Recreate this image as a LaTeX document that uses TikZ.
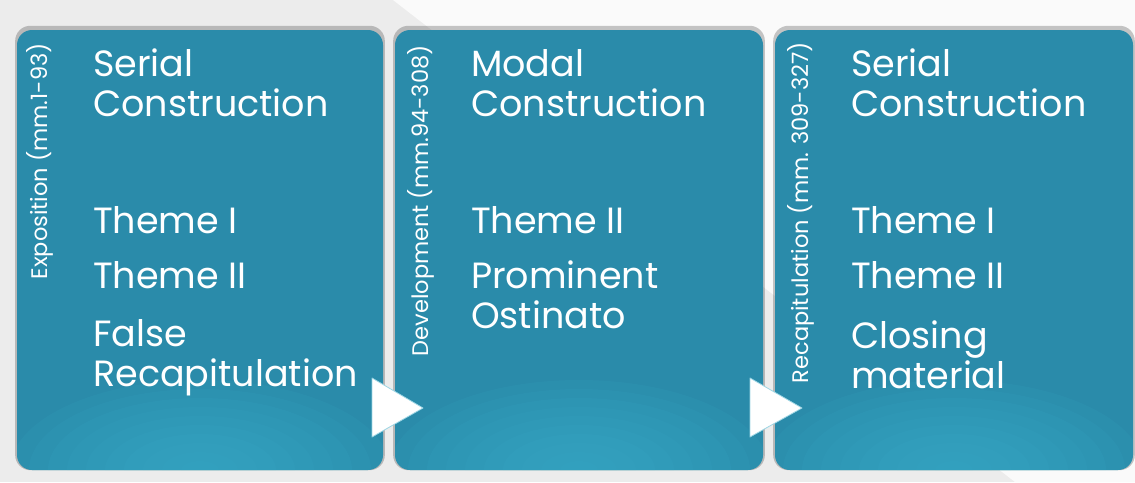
\documentclass[tikz,border=0pt]{standalone}
\usepackage{fontspec}
\usepackage{tikz}
\usetikzlibrary{shadows}
\newfontfamily\boxfont{Poppins}
\definecolor{boxteal}{RGB}{42,139,170}
\definecolor{boxglow}{RGB}{58,172,202}
\definecolor{backgrey}{RGB}{236,236,236}
\definecolor{backlight}{RGB}{250,250,250}
\begin{document}
\begin{tikzpicture}[x=1pt,y=-1pt,
  stagebox/.style={rounded corners=15pt, fill=boxteal, inner sep=0pt, minimum height=440pt,
    general shadow={fill=black, opacity=0.22, shadow scale=1.01, shadow yshift=2pt},
    path picture={\foreach \k in {1,...,10}
      \fill[boxglow, opacity=0.12] (path picture bounding box.south) ellipse ({19pt*\k} and {9pt*\k});}},
  itemtext/.style={text=white, font=\boxfont\fontsize{36.5}{39.5}\selectfont, align=left, anchor=base west, inner sep=0pt},
  sidetext/.style={text=white, font=\boxfont\fontsize{22.5}{22.5}\selectfont, rotate=90, anchor=base east, inner sep=0pt},
  nexttri/.style={fill=white, draw=boxglow!50!white, line width=0.8pt, line join=round}]
\useasboundingbox (0,0) rectangle (1135,482);
\fill[backgrey] (0,0) rectangle (1135,482);
\fill[backlight] (393,0) -- (1135,0) -- (1135,482) -- (1015,482) -- cycle;

% the three stages
\node[stagebox, minimum width=366pt] (expo) at (200,250) {};
\node[stagebox, minimum width=368pt] (devel) at (579,250) {};
\node[stagebox, minimum width=358pt] (recap) at (954,250) {};

% side labels
\node[sidetext] (expolabel) at (47,43) {Exposition (mm.1-93)};
\node[sidetext] (devellabel) at (428,45) {Development (mm.94-308)};
\node[sidetext] (recaplabel) at (808,42) {Recapitulation (mm. 309-327)};

% exposition
\node[itemtext] (expoa) at (93,116) {Serial\\Construction};
\node[itemtext] (expob) at (93,233) {Theme I};
\node[itemtext] (expoc) at (93,288) {Theme II};
\node[itemtext] (expod) at (93,386) {False\\Recapitulation};

% development
\node[itemtext] (devela) at (471,116) {Modal\\Construction};
\node[itemtext] (develb) at (471,233) {Theme II};
\node[itemtext] (develc) at (471,328) {Prominent\\Ostinato};

% recapitulation
\node[itemtext] (recapa) at (851,116) {Serial\\Construction};
\node[itemtext] (recapb) at (851,233) {Theme I};
\node[itemtext] (recapc) at (851,288) {Theme II};
\node[itemtext] (recapd) at (851,388) {Closing\\material};

% arrows between stages
\draw[nexttri] (372,378) -- (423,408) -- (372,437) -- cycle;
\draw[nexttri] (750,378) -- (802,408) -- (750,437) -- cycle;
\end{tikzpicture}
\end{document}
